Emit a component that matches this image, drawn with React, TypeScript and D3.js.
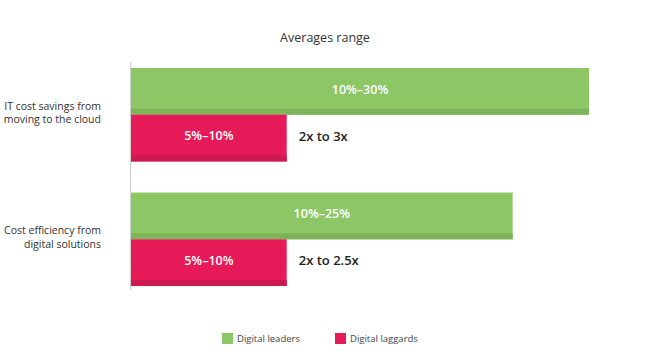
import React from "react";
import * as d3 from "d3";

const categories = [
  ["IT cost savings from", "moving to the cloud"],
  ["Cost efficiency from", "digital solutions"],
];
const seriesNames = ["Digital leaders", "Digital laggards"];
const leaders = [30, 25];
const laggards = [10.2, 10.2];
const leaderLabels = ["10%–30%", "10%–25%"];
const laggardLabels = ["5%–10%", "5%–10%"];
const multiplierLabels = ["2x to 3x", "2x to 2.5x"];

const W = 652;
const H = 360;
const FONT = "'Open Sans', 'Noto Sans', sans-serif";
const GREEN = "#8cc665";
const GREEN_D = "#7fb35a";
const RED = "#e61a58";
const RED_D = "#cc1a50";

export default function App() {
  const x = d3.scaleLinear().domain([0, 30]).range([131, 589]);
  const y0 = d3.scaleBand<number>().domain([0, 1]).range([68, 286]).paddingInner(0.25);
  const y1 = d3.scaleBand<string>().domain(["l", "g"]).range([0, y0.bandwidth()]);
  const bh = y1.bandwidth();
  const strip = 6;

  const bar = (i: number, key: string, v: number, c: string, cd: string, label: string) => {
    const top = (y0(i) as number) + (y1(key) as number);
    const w = x(v) - x(0);
    return (
      <g key={key + i}>
        <rect x={x(0)} y={top} width={w} height={bh} fill={c} />
        <rect x={x(0)} y={top + bh - strip} width={w} height={strip} fill={cd} />
        <text x={x(0) + w / 2} y={top + bh / 2 - 1} textAnchor="middle" dominantBaseline="middle"
          fill="#fff" fontWeight={600} fontSize={12.5} fontFamily={FONT}>{label}</text>
      </g>
    );
  };

  return (
    <svg width={W} height={H} style={{ position: "absolute", left: 0, top: 0 }}>
      <rect width={W} height={H} fill="#fff" />
      <text x={325} y={39} textAnchor="middle" dominantBaseline="middle" fontSize={12.5}
        fill="#333" fontFamily={FONT}>Averages range</text>
      <line x1={130.5} x2={130.5} y1={62} y2={290} stroke="#d0d0d0" strokeWidth={1} />
      {categories.map((lines, i) => {
        const cy = (y0(i) as number) + y0.bandwidth() / 2 - 1;
        const top = (y0(i) as number) + (y1("g") as number);
        return (
          <g key={i}>
            {bar(i, "l", leaders[i], GREEN, GREEN_D, leaderLabels[i])}
            {bar(i, "g", laggards[i], RED, RED_D, laggardLabels[i])}
            <text x={x(laggards[i]) + 12} y={top + bh / 2 - 1} dominantBaseline="middle"
              fontWeight={600} fontSize={13} fill="#222" fontFamily={FONT}>{multiplierLabels[i]}</text>
            {lines.map((t, j) => (
              <text key={j} x={101} y={cy + (j - (lines.length - 1) / 2) * 13.5} textAnchor="end"
                dominantBaseline="middle" fontSize={10.5} fill="#333" fontFamily={FONT}>{t}</text>
            ))}
          </g>
        );
      })}
      {seriesNames.map((n, i) => {
        const lx = i === 0 ? 222 : 335;
        return (
          <g key={n}>
            <rect x={lx} y={333} width={11} height={11} fill={i === 0 ? GREEN : RED} />
            <text x={lx + 15} y={339} dominantBaseline="middle" fontSize={9.5} fill="#444"
              fontFamily={FONT}>{n}</text>
          </g>
        );
      })}
    </svg>
  );
}
